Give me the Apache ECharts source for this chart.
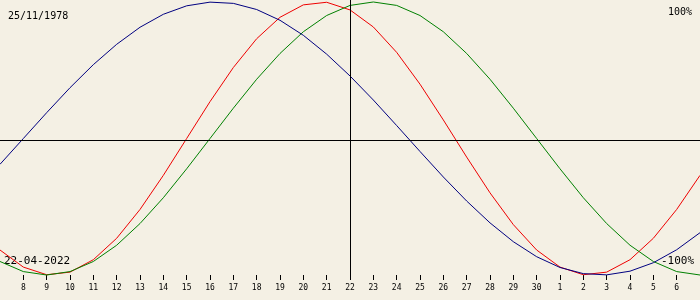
<!DOCTYPE html>
<html>
<head>
<meta charset="utf-8">
<script src="https://cdn.jsdelivr.net/npm/echarts@6/dist/echarts.min.js"></script>
<style>
html,body{margin:0;padding:0;background:#f4f0e4;}
#chart{width:700px;height:300px;}
</style>
</head>
<body>
<div id="chart"></div>
<script>
// Day-of-month labels, 7 April .. 7 May 2022
var dayLabels = ['7','8','9','10','11','12','13','14','15','16','17','18','19','20','21','22','23','24','25','26','27','28','29','30','1','2','3','4','5','6','7'];
var currentDayIndex = 15; // 22-04-2022
// Physical (red)
var physical = [-0.817,-0.942,-0.998,-0.979,-0.888,-0.731,-0.520,-0.270,0,0.270,0.520,0.731,0.888,0.979,0.998,0.942,0.817,0.631,0.398,0.136,-0.136,-0.398,-0.631,-0.817,-0.942,-0.998,-0.979,-0.888,-0.731,-0.520,-0.270];
// Emotional (green)
var emotional = [-0.901,-0.975,-1,-0.975,-0.901,-0.782,-0.623,-0.434,-0.222,0,0.222,0.434,0.623,0.782,0.901,0.975,1,0.975,0.901,0.782,0.623,0.434,0.222,0,-0.222,-0.434,-0.623,-0.782,-0.901,-0.975,-1];
// Intellectual (blue)
var intellectual = [-0.189,0,0.189,0.372,0.541,0.690,0.815,0.910,0.972,0.999,0.990,0.945,0.866,0.756,0.618,0.458,0.282,0.095,-0.095,-0.282,-0.458,-0.618,-0.756,-0.866,-0.945,-0.990,-0.999,-0.972,-0.910,-0.815,-0.690];
var birthDate = '25/11/1978';
var currentDate = '22-04-2022';
var topLabel = '100%';
var bottomLabel = '-100%';

var chart = echarts.init(document.getElementById('chart'), null, {renderer:'canvas'});
var mono = 'DejaVu Sans Mono';
function lineSeries(name, data, color){
  return {name:name, type:'line', data:data, symbol:'none', smooth:false,
    lineStyle:{color:color, width:1}, itemStyle:{color:color}, silent:true, z:3};
}
var lastIdx = dayLabels.length - 1;
chart.setOption({
  animation:false,
  backgroundColor:'#f4f0e4',
  grid:{left:0, right:0, top:0, height:280, containLabel:false},
  xAxis:{type:'category', data:dayLabels, boundaryGap:false,
    axisLine:{show:false, onZero:false},
    axisTick:{show:true, inside:true, length:5, lineStyle:{color:'#000', width:1},
      interval:function(i){return i!==0 && i!==lastIdx;}},
    axisLabel:{show:true, margin:4, fontSize:8, fontFamily:mono, color:'#000',
      interval:function(i){return i!==0 && i!==lastIdx;}},
    splitLine:{show:false}},
  yAxis:{type:'value', min:-1.0366, max:1.01465, show:false, splitLine:{show:false}},
  series:[
    Object.assign(lineSeries('physical', physical, '#ee0000'), {
      markLine:{silent:true, symbol:['none','none'], label:{show:false},
        lineStyle:{color:'#000', width:1, type:'solid'},
        data:[{xAxis:currentDayIndex},{yAxis:-0.011}]}
    }),
    lineSeries('emotional', emotional, '#008000'),
    lineSeries('intellectual', intellectual, '#000080')
  ],
  graphic:[
    {type:'text', left:8, top:11, style:{text:birthDate, font:'10px '+mono, fill:'#000'}},
    {type:'text', right:8, top:7, style:{text:topLabel, font:'10px '+mono, fill:'#000'}},
    {type:'text', left:4, top:256, style:{text:currentDate, font:'11px '+mono, fill:'#000'}},
    {type:'text', right:6, top:256, style:{text:bottomLabel, font:'11px '+mono, fill:'#000'}}
  ]
});
</script>
</body>
</html>
